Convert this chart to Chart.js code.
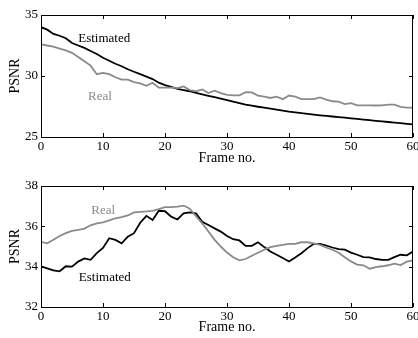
<!DOCTYPE html>
<html>
<head>
<meta charset="utf-8">
<script src="https://cdn.jsdelivr.net/npm/chart.js@4/dist/chart.umd.min.js"></script>
<style>
  html, body { margin: 0; padding: 0; background: #fff; }
  #wrap { position: relative; width: 418px; height: 338px; overflow: hidden; }
  canvas { position: absolute; left: 0; }
</style>
</head>
<body>
<div id="wrap">
  <canvas id="top" width="418" height="170" style="top:0px"></canvas>
  <canvas id="bottom" width="418" height="168" style="top:170px"></canvas>
</div>
<script>
// frame numbers
const frames = [0,1,2,3,4,5,6,7,8,9,10,11,12,13,14,15,16,17,18,19,20,
  21,22,23,24,25,26,27,28,29,30,31,32,33,34,35,36,37,38,39,40,
  41,42,43,44,45,46,47,48,49,50,51,52,53,54,55,56,57,58,59,60];

// upper plot
const estimatedA = [34.0,33.8,33.45,33.3,33.1,32.7,32.5,32.3,32.05,31.8,31.5,
  31.25,31.0,30.8,30.55,30.35,30.15,29.95,29.75,29.45,29.25,
  29.1,28.95,28.85,28.75,28.62,28.5,28.38,28.27,28.15,28.03,
  27.9,27.78,27.65,27.57,27.48,27.4,27.32,27.24,27.16,27.08,
  27.02,26.96,26.9,26.84,26.78,26.73,26.68,26.63,26.58,26.53,
  26.48,26.43,26.38,26.33,26.28,26.23,26.18,26.13,26.08,26.03];
const realA = [32.6,32.5,32.4,32.25,32.1,31.9,31.55,31.2,30.85,30.15,30.25,
  30.15,29.9,29.7,29.7,29.5,29.4,29.2,29.45,29.05,29.05,
  29.05,29.0,29.15,28.85,28.75,28.9,28.6,28.8,28.6,28.45,
  28.42,28.42,28.67,28.65,28.4,28.3,28.2,28.3,28.1,28.4,
  28.3,28.1,28.1,28.1,28.25,28.07,27.93,27.9,27.7,27.77,
  27.6,27.6,27.6,27.58,27.6,27.65,27.65,27.47,27.4,27.4];

// lower plot
const estimatedB = [34.02,33.92,33.82,33.77,34.02,34.0,34.25,34.41,34.34,34.67,34.93,
  35.41,35.33,35.16,35.49,35.66,36.18,36.52,36.31,36.77,36.75,
  36.48,36.34,36.64,36.69,36.64,36.23,36.07,35.9,35.74,35.52,
  35.36,35.3,35.03,35.03,35.21,34.97,34.75,34.59,34.43,34.26,
  34.46,34.67,34.92,35.13,35.13,35.05,34.95,34.87,34.84,34.7,
  34.59,34.47,34.46,34.38,34.34,34.34,34.47,34.59,34.56,34.75];
const realB = [35.23,35.16,35.33,35.52,35.66,35.77,35.82,35.89,36.05,36.15,36.2,
  36.3,36.4,36.46,36.54,36.69,36.72,36.74,36.77,36.85,36.95,
  36.95,36.98,37.03,36.87,36.5,36.15,35.74,35.33,35.0,34.7,
  34.47,34.31,34.38,34.54,34.69,34.84,34.97,35.03,35.08,35.13,
  35.13,35.21,35.21,35.16,35.08,34.95,34.84,34.69,34.47,34.26,
  34.1,34.07,33.9,33.98,34.02,34.07,34.15,34.08,34.25,34.31];

const xTicks = [0, 10, 20, 30, 40, 50, 60];
const yTicksA = [25, 30, 35];
const yTicksB = [32, 34, 36, 38];

// text labels placed in data coordinates: [text, frame, value]
const notesA = [['Estimated', 6.0, 33.1], ['Real', 7.6, 28.3]];
const notesB = [['Real', 8.1, 36.76], ['Estimated', 6.1, 33.44]];

const serif = '"Liberation Serif", "Times New Roman", serif';
const BLACK = '#000000';
const GREY = '#8a8a8a';

// box + inward ticks (matlab look) + series names
const framePlugin = {
  id: 'frame',
  afterDatasetsDraw(chart, args, opts) {
    const ctx = chart.ctx;
    const a = chart.chartArea;
    const xs = chart.scales.x, ys = chart.scales.y;
    ctx.save();
    ctx.strokeStyle = '#000';
    ctx.lineWidth = 1;
    ctx.strokeRect(Math.round(a.left) + 0.5, Math.round(a.top) + 0.5,
      Math.round(a.right - a.left) - 1, Math.round(a.bottom - a.top));
    ctx.beginPath();
    xTicks.forEach(v => {
      const px = Math.round(xs.getPixelForValue(v)) + 0.5;
      ctx.moveTo(px, a.bottom); ctx.lineTo(px, a.bottom - 4);
      ctx.moveTo(px, a.top); ctx.lineTo(px, a.top + 4);
    });
    opts.yTicks.forEach(v => {
      const py = Math.round(ys.getPixelForValue(v)) + 0.5;
      ctx.moveTo(a.left, py); ctx.lineTo(a.left + 4, py);
      ctx.moveTo(a.right, py); ctx.lineTo(a.right - 4, py);
    });
    ctx.stroke();

    ctx.font = '13px ' + serif;
    ctx.textBaseline = 'middle';
    ctx.textAlign = 'left';
    opts.notes.forEach(n => {
      ctx.fillStyle = n[0] === 'Real' ? GREY : BLACK;
      ctx.fillText(n[0], xs.getPixelForValue(n[1]), ys.getPixelForValue(n[2]));
    });
    ctx.restore();
  }
};

function makeChart(id, est, real, yMin, yMax, yStep, yTicks, notes, pad) {
  return new Chart(document.getElementById(id), {
    type: 'line',
    data: {
      datasets: [
        {
          label: 'Real',
          data: frames.map((f, i) => ({ x: f, y: real[i] })),
          borderColor: GREY,
          borderWidth: 1.8,
          pointRadius: 0,
          tension: 0
        },
        {
          label: 'Estimated',
          data: frames.map((f, i) => ({ x: f, y: est[i] })),
          borderColor: BLACK,
          borderWidth: 1.8,
          pointRadius: 0,
          tension: 0
        }
      ]
    },
    options: {
      responsive: false,
      animation: false,
      events: [],
      layout: { padding: { left: 0, right: 5, top: pad.top, bottom: pad.bottom } },
      plugins: {
        legend: { display: false },
        tooltip: { enabled: false },
        frame: { yTicks: yTicks, notes: notes }
      },
      scales: {
        x: {
          type: 'linear',
          min: 0, max: 60,
          grid: { display: false, drawTicks: false },
          border: { display: false },
          ticks: {
            stepSize: 10, padding: 3.5, maxRotation: 0, color: '#000',
            font: { family: serif, size: 13, lineHeight: 1 }
          },
          title: {
            display: true, text: 'Frame no.', color: '#000',
            padding: { top: 0, bottom: pad.title },
            font: { family: serif, size: 14, lineHeight: 1 }
          },
          afterFit(scale) {
            scale.height = 29;
            scale.paddingLeft = 0;
            scale.paddingRight = 0;
          }
        },
        y: {
          min: yMin, max: yMax,
          grid: { display: false, drawTicks: false },
          border: { display: false },
          ticks: {
            stepSize: yStep, padding: 3, color: '#000',
            font: { family: serif, size: 13, lineHeight: 1 }
          },
          title: {
            display: true, text: 'PSNR', color: '#000',
            padding: { top: 8, bottom: 0 },
            font: { family: serif, size: 14, lineHeight: 1 }
          },
          afterFit(scale) {
            scale.width = 41;
            scale.paddingTop = 0;
            scale.paddingBottom = 0;
          }
        }
      }
    },
    plugins: [framePlugin]
  });
}

makeChart('top', estimatedA, realA, 25, 35, 5, yTicksA, notesA, { top: 15, bottom: 4, title: 1 });
makeChart('bottom', estimatedB, realB, 32, 38, 2, yTicksB, notesB, { top: 16, bottom: 2, title: 2 });
</script>
</body>
</html>
